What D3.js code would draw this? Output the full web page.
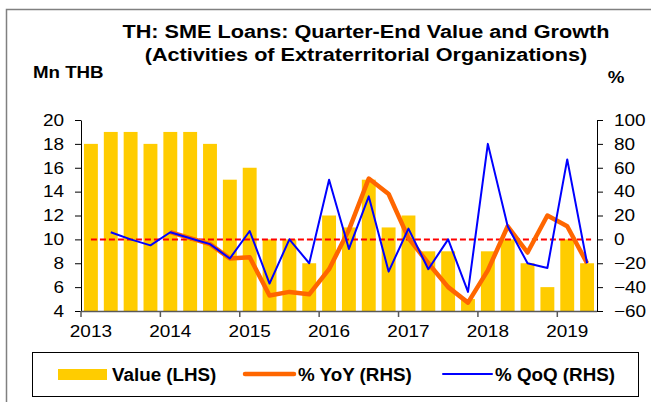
<!DOCTYPE html>
<html>
<head>
<meta charset="utf-8">
<script src="https://cdn.jsdelivr.net/npm/d3@7"></script>
<style>
body { margin: 0; background: #fff; }
text { font-family: "Liberation Sans", Arial, sans-serif; fill: #000; }
</style>
</head>
<body>
<svg id="chart" width="651" height="402"></svg>
<script>
// quarters 2013Q1 .. 2019Q2
var quarters = ["2013Q1","2013Q2","2013Q3","2013Q4","2014Q1","2014Q2","2014Q3","2014Q4",
  "2015Q1","2015Q2","2015Q3","2015Q4","2016Q1","2016Q2","2016Q3","2016Q4",
  "2017Q1","2017Q2","2017Q3","2017Q4","2018Q1","2018Q2","2018Q3","2018Q4",
  "2019Q1","2019Q2"];
var valueLhs = [18,19,19,18,19,19,18,15,16,10,10,8,12,11,15,11,12,9,9,5,9,10,8,6,10,8];
var yoyRhs = [null,null,null,null,6,1,-4,-16,-15,-47,-44,-46,-25,8,51,38,1,-20,-40,-53,-26,11,-11,20,11,-20];
var qoqRhs = [null,6,0,-5,6,1,-4,-16,7,-37,0,-20,50,-8,36,-27,9,-25,0,-44,80,11,-20,-24,67,-20];
var yearLabels = ["2013","2014","2015","2016","2017","2018","2019"];
var leftTicks = [4,6,8,10,12,14,16,18,20];
var rightTicks = [-60,-40,-20,0,20,40,60,80,100];

var svg = d3.select("#chart");

var plot = {left: 81, right: 597, top: 120, bottom: 311};

// text in the original is a bit wider than it is tall
function stretch(sel, k) {
  sel.attr("transform", function() {
    var ax = +this.getAttribute("x") || 0;
    return "translate(" + ax + ",0) scale(" + k + ",1) translate(" + (-ax) + ",0)";
  });
}

// outer frame
svg.append("rect")
  .attr("x", 6.5).attr("y", 9.5)
  .attr("width", 700).attr("height", 500)
  .attr("fill", "none").attr("stroke", "#808080").attr("stroke-width", 1.5);

var x = d3.scaleBand()
  .domain(quarters)
  .range([plot.left, plot.right])
  .paddingInner(0.3)
  .paddingOuter(0.15);

var yL = d3.scaleLinear().domain([4, 20]).range([plot.bottom, plot.top]);
var yR = d3.scaleLinear().domain([-60, 100]).range([plot.bottom, plot.top]);

function cx(q) { return x(q) + x.bandwidth() / 2; }

// bars
svg.append("g").selectAll("rect")
  .data(quarters)
  .enter().append("rect")
  .attr("x", function(d) { return x(d); })
  .attr("y", function(d, i) { return yL(valueLhs[i]); })
  .attr("width", x.bandwidth())
  .attr("height", function(d, i) { return yL(4) - yL(valueLhs[i]); })
  .attr("fill", "#FFCC00");

// zero line on RHS
svg.append("line")
  .attr("x1", cx(quarters[0]))
  .attr("x2", cx(quarters[quarters.length - 1]) + 4)
  .attr("y1", yR(0)).attr("y2", yR(0))
  .attr("stroke", "#FF0000").attr("stroke-width", 2)
  .attr("stroke-dasharray", "6,3");

var lineR = function(arr) {
  return d3.line()
    .defined(function(d, i) { return arr[i] !== null; })
    .x(function(d) { return cx(d); })
    .y(function(d, i) { return yR(arr[i]); });
};

svg.append("path")
  .datum(quarters)
  .attr("d", lineR(yoyRhs))
  .attr("fill", "none").attr("stroke", "#FF6600")
  .attr("stroke-width", 4.5).attr("stroke-linejoin", "round");

svg.append("path")
  .datum(quarters)
  .attr("d", lineR(qoqRhs))
  .attr("fill", "none").attr("stroke", "#0000FF")
  .attr("stroke-width", 2).attr("stroke-linejoin", "round");

// left axis
var gL = svg.append("g")
  .attr("transform", "translate(" + plot.left + ",0)")
  .call(d3.axisLeft(yL).tickValues(leftTicks).tickSize(6).tickSizeOuter(0).tickPadding(11));
gL.selectAll("text").style("font-size", "16.5px").style("font-family", "Liberation Sans, Arial, sans-serif");
stretch(gL.selectAll("text"), 1.15);

// right axis
var gR = svg.append("g")
  .attr("transform", "translate(" + plot.right + ",0)")
  .call(d3.axisRight(yR).tickValues(rightTicks).tickSize(6).tickSizeOuter(0).tickPadding(11));
gR.selectAll("text").style("font-size", "16.5px").style("font-family", "Liberation Sans, Arial, sans-serif");
stretch(gR.selectAll("text"), 1.15);

// bottom axis: ticks at year boundaries, labels under first quarter
var gap = x.step() - x.bandwidth();
var gB = svg.append("g");
gB.append("line")
  .attr("x1", plot.left).attr("x2", plot.right)
  .attr("y1", plot.bottom + 0.5).attr("y2", plot.bottom + 0.5)
  .attr("stroke", "#595959").attr("stroke-width", 1.5);
gB.selectAll(".tick")
  .data(yearLabels)
  .enter().append("line")
  .attr("x1", function(d) { return x(d + "Q1") - gap / 2; })
  .attr("x2", function(d) { return x(d + "Q1") - gap / 2; })
  .attr("y1", plot.bottom).attr("y2", plot.bottom + 6)
  .attr("stroke", "#595959").attr("stroke-width", 1.5);
var yrText = gB.selectAll(".lbl")
  .data(yearLabels)
  .enter().append("text")
  .attr("x", function(d) { return cx(d + "Q1"); })
  .attr("y", 337.5)
  .attr("text-anchor", "middle")
  .style("font-size", "16.5px")
  .text(function(d) { return d; });
stretch(yrText, 1.15);

// titles
var t1 = svg.append("text")
  .attr("x", 366).attr("y", 38.5)
  .attr("text-anchor", "middle")
  .style("font-size", "19px").style("font-weight", "bold")
  .text("TH: SME Loans: Quarter-End Value and Growth");
var t2 = svg.append("text")
  .attr("x", 366).attr("y", 61.5)
  .attr("text-anchor", "middle")
  .style("font-size", "19px").style("font-weight", "bold")
  .text("(Activities of Extraterritorial Organizations)");
stretch(t1, 1.14);
stretch(t2, 1.14);

var mn = svg.append("text")
  .attr("x", 33).attr("y", 78.5)
  .style("font-size", "17px").style("font-weight", "bold")
  .text("Mn THB");
stretch(mn, 1.1);
var pct = svg.append("text")
  .attr("x", 616).attr("y", 83.5)
  .attr("text-anchor", "middle")
  .style("font-size", "17px").style("font-weight", "bold")
  .text("%");
stretch(pct, 1.1);

// legend
var legend = svg.append("g");
legend.append("rect")
  .attr("x", 32.5).attr("y", 352.5)
  .attr("width", 606).attr("height", 44)
  .attr("fill", "#fff").attr("stroke", "#000").attr("stroke-width", 1);

var legItems = [
  {label: "Value (LHS)", type: "bar", color: "#FFCC00", x0: 58, tx: 112},
  {label: "% YoY (RHS)", type: "line", color: "#FF6600", w: 4.5, x0: 245, tx: 298},
  {label: "% QoQ (RHS)", type: "line", color: "#0000FF", w: 2, x0: 443, tx: 495}
];
legItems.forEach(function(it) {
  if (it.type === "bar") {
    legend.append("rect")
      .attr("x", it.x0).attr("y", 369)
      .attr("width", 49).attr("height", 11)
      .attr("fill", it.color);
  } else {
    legend.append("line")
      .attr("x1", it.x0).attr("x2", it.x0 + 49)
      .attr("y1", 374).attr("y2", 374)
      .attr("stroke", it.color).attr("stroke-width", it.w)
      .attr("stroke-linecap", "round");
  }
  legend.append("text")
    .attr("x", it.tx).attr("y", 380.5)
    .style("font-size", "18.8px").style("font-weight", "bold")
    .text(it.label);
});
</script>
</body>
</html>
